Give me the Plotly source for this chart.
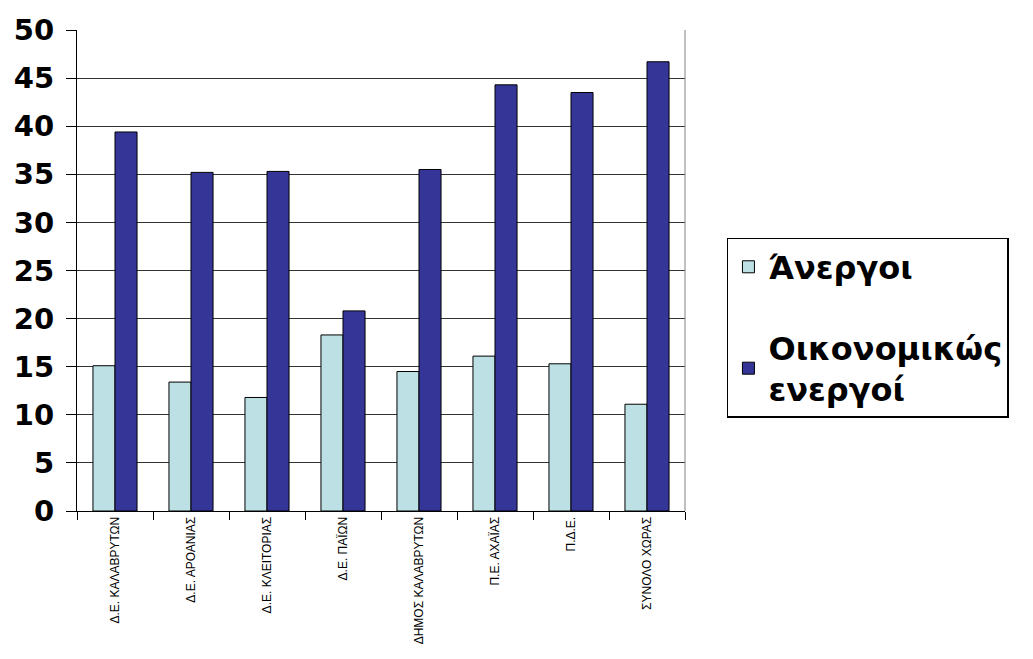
import plotly.graph_objects as go

categories = ["Δ.Ε. ΚΑΛΑΒΡΥΤΩΝ", "Δ.Ε. ΑΡΟΑΝΙΑΣ", "Δ.Ε. ΚΛΕΙΤΟΡΙΑΣ", "Δ.Ε. ΠΑΪΩΝ",
              "ΔΗΜΟΣ ΚΑΛΑΒΡΥΤΩΝ", "Π.Ε. ΑΧΑΪΑΣ", "Π.Δ.Ε.", "ΣΥΝΟΛΟ ΧΩΡΑΣ"]
unemployed = [15.1, 13.4, 11.8, 18.3, 14.5, 16.1, 15.3, 11.1]
active = [39.4, 35.2, 35.3, 20.8, 35.5, 44.3, 43.5, 46.7]
series_names = ["Άνεργοι", "Οικονομικώς<br>ενεργοί"]
y_ticks = list(range(0, 51, 5))

fig = go.Figure()
fig.add_trace(go.Bar(x=categories, y=unemployed, name=series_names[0], legendgroup="a",
                     marker=dict(color="#BDE0E4", line=dict(color="#000000", width=1))))
fig.add_trace(go.Bar(x=categories, y=active, name=series_names[1], legendgroup="b",
                     marker=dict(color="#353598", line=dict(color="#000000", width=1))))

fig.update_layout(
    width=1033, height=659,
    margin=dict(l=69, r=356, t=22, b=156, autoexpand=False),
    paper_bgcolor="white", plot_bgcolor="white",
    barmode="group", bargap=0.42, bargroupgap=0,
    showlegend=True,
    legend=dict(x=1.069, y=0.5676, xanchor="left", yanchor="top",
                bordercolor="#000000", borderwidth=1.5,
                font=dict(family="DejaVu Sans", size=32, color="#000000", weight="bold"),
                tracegroupgap=36, itemwidth=30,
                traceorder="grouped"),
    font=dict(family="Liberation Sans", color="#000000"),
)
fig.update_yaxes(range=[0, 50], tickvals=y_ticks, showgrid=True, gridcolor="#333333", gridwidth=1,
                 showline=True, linecolor="#000000", linewidth=1, mirror=False,
                 ticks="outside", ticklen=10, tickcolor="#000000", ticklabelstandoff=6,
                 tickfont=dict(family="DejaVu Sans", size=29, color="#000000", weight="bold"),
                 zeroline=False, automargin=False)
fig.update_xaxes(showline=True, linecolor="#000000", linewidth=1, mirror=False,
                 ticks="outside", ticklen=8, tickcolor="#000000", tickson="boundaries",
                 tickangle=-90, tickfont=dict(family="Liberation Sans", size=12, color="#000000"),
                 showgrid=False, automargin=False)
fig.update_layout(shapes=[dict(type="line", xref="paper", yref="paper", x0=1, x1=1, y0=0, y1=1,
                               line=dict(color="#808080", width=1))])

fig.write_html("out.html")
